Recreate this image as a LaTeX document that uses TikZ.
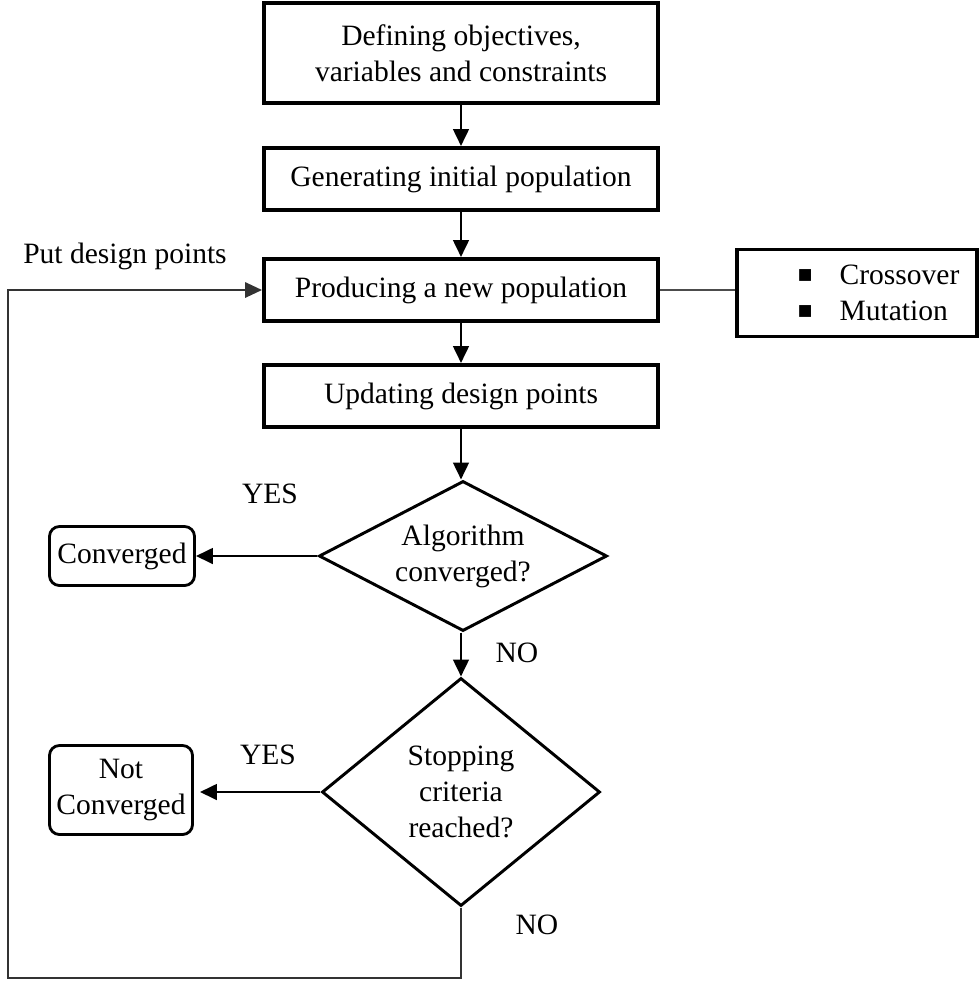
\documentclass[tikz,border=0pt]{standalone}
\usepackage{fontspec}
\setmainfont{Liberation Serif}
\newfontfamily\symfont{DejaVu Sans}
\usetikzlibrary{shapes.geometric,arrows.meta}

\begin{document}
\begin{tikzpicture}[x=0.025cm, y=-0.025cm, font=\fontsize{21}{25.6}\selectfont,
    stepbox/.style={draw, line width=2.8pt, minimum width=9.85cm, minimum height=1.55cm, align=center, inner sep=0pt},
    endbox/.style={draw, line width=2pt, rounded corners=0.25cm, align=center, inner sep=0pt},
    decide/.style={draw, diamond, line width=2.1pt, align=center, inner sep=0pt},
    arr/.style={line width=2pt, -{Triangle[length=12pt, width=11pt]}},
    lbl/.style={inner sep=0pt}]
  \useasboundingbox (0,0) rectangle (979,982);
  \node[stepbox, minimum height=2.5cm] (define) at (461,53) {Defining objectives,\\variables and constraints};
  \node[stepbox] (init) at (461,179) {Generating initial population};
  \node[stepbox] (newpop) at (461,290) {Producing a new population};
  \node[stepbox] (update) at (461,396) {Updating design points};
  \node[draw, line width=2.8pt, minimum width=6cm, minimum height=2.175cm, text width=6cm, inner xsep=0pt, align=left] (ops) at (857,293)
    {\hspace*{1.52cm}\raisebox{0.13cm}{\symfont\fontsize{11}{11}\selectfont ■}\hspace{0.68cm}Crossover\\\hspace*{1.52cm}\raisebox{0.13cm}{\symfont\fontsize{11}{11}\selectfont ■}\hspace{0.68cm}Mutation};
  \node[decide, aspect=1.92, minimum width=7.2cm, minimum height=3.75cm] (conv) at (463,556) {Algorithm\\converged?};
  \node[decide, aspect=1.22, minimum width=6.95cm, minimum height=5.7cm] (stop) at (461,792) {Stopping\\criteria\\reached?};
  \node[endbox, minimum width=3.625cm, minimum height=1.475cm] (done) at (122,556) {Converged};
  \node[endbox, minimum width=3.575cm, minimum height=2.225cm] (notdone) at (121,790) {Not\\Converged};
  \node[lbl] (put) at (125,256) {Put design points};
  \node[lbl] (yes1) at (270,494) {YES};
  \node[lbl] (no1) at (517,653) {NO};
  \node[lbl] (yes2) at (268,755) {YES};
  \node[lbl] (no2) at (537,925) {NO};
  \coordinate (corner) at (8,978);
  % main flow
  \draw[arr] (define) -- (init);
  \draw[arr] (init) -- (newpop);
  \draw[arr] (newpop) -- (update);
  \draw[arr] (update.south) -- (update.south |- conv.north);
  \draw[arr] (conv) -- (done);
  \draw[arr] (conv.south -| stop.north) -- (stop.north);
  \draw[arr] (stop.west) -- ([xshift=0.15cm]stop.west -| notdone.east);
  \draw[line width=0.9pt, black!70] (newpop.east) -- (newpop.east -| ops.west);
  % back to new population
  \draw[line width=1.1pt, black!80, -{Triangle[length=12pt, width=11pt]}] (stop.south) |- (corner) |- (newpop.west);
\end{tikzpicture}
\end{document}
